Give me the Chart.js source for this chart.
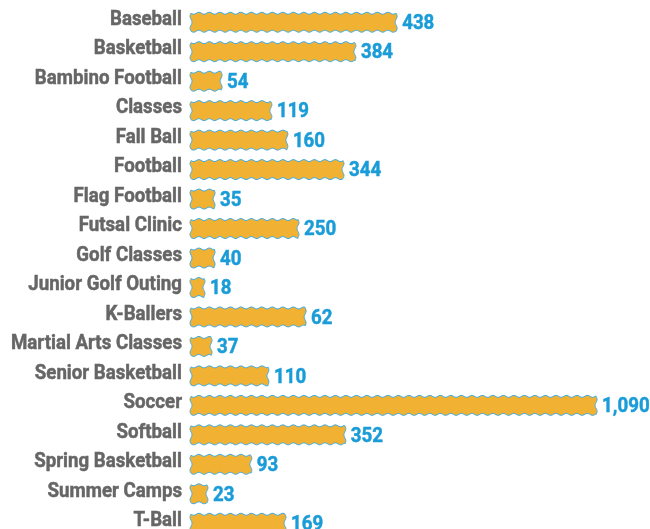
<!DOCTYPE html>
<html lang="en">
<head>
    <meta charset="UTF-8">
    <title>Program Participation</title>
    <script src="https://cdn.jsdelivr.net/npm/chart.js"></script>
    <style>
        html, body {
            margin: 0;
            padding: 0;
            background: #fff;
            overflow: hidden;
        }
        .chart-container {
            width: 650px;
            height: 538px;
        }
    </style>
</head>
<body>
    <div class="chart-container">
        <canvas id="programChart"></canvas>
    </div>

    <script>
        const programs = [
            'Baseball', 'Basketball', 'Bambino Football', 'Classes', 'Fall Ball',
            'Football', 'Flag Football', 'Futsal Clinic', 'Golf Classes',
            'Junior Golf Outing', 'K-Ballers', 'Martial Arts Classes',
            'Senior Basketball', 'Soccer', 'Softball', 'Spring Basketball',
            'Summer Camps', 'T-Ball'
        ];
        // printed numbers next to each bar
        const counts = [438, 384, 54, 119, 160, 344, 35, 250, 40, 18, 62, 37, 110, 1090, 352, 93, 23, 169];
        // bar lengths as drawn in the picture (same units as Soccer = 1,090)
        const barSizes = [552, 441, 81, 215, 258, 409, 62, 288, 62, 35, 307, 54, 207, 1090, 414, 161, 43, 253];

        // no condensed font installed, so squeeze Roboto Bold sideways
        const FONT = 'bold 21px Roboto, sans-serif';
        const SQUEEZE = 0.89;

        function drawNarrow(ctx, text, x, y, align, color) {
            ctx.save();
            ctx.font = FONT;
            ctx.fillStyle = color;
            ctx.strokeStyle = color;
            ctx.lineWidth = 0.5;
            ctx.textBaseline = 'middle';
            ctx.textAlign = align;
            ctx.translate(x, y);
            ctx.scale(SQUEEZE, 1);
            ctx.fillText(text, 0, 0);
            ctx.strokeText(text, 0, 0);
            ctx.restore();
        }

        // wavy outlined bars, category names and value labels
        const wavyBars = {
            id: 'wavyBars',
            afterDatasetsDraw(chart) {
                const ctx = chart.ctx;
                const meta = chart.getDatasetMeta(0);
                meta.data.forEach((bar, i) => {
                    const x0 = bar.base, x1 = bar.x;
                    const y0 = bar.y - bar.height / 2, y1 = bar.y + bar.height / 2;
                    const amp = 1.0, wave = 10.5;
                    const h = y1 - y0;
                    ctx.save();
                    ctx.beginPath();
                    for (let x = x0; x <= x1; x += 1) {
                        const y = y0 + amp * Math.sin(2 * Math.PI * (x - x0) / wave);
                        x === x0 ? ctx.moveTo(x, y) : ctx.lineTo(x, y);
                    }
                    for (let y = y0; y <= y1; y += 1) {
                        ctx.lineTo(x1 + amp * Math.sin(2 * Math.PI * (y - y0) / (h / 1.5)), y);
                    }
                    for (let x = x1; x >= x0; x -= 1) {
                        ctx.lineTo(x, y1 + amp * Math.sin(2 * Math.PI * (x - x0) / wave));
                    }
                    for (let y = y1; y >= y0; y -= 1) {
                        ctx.lineTo(x0 - amp * Math.sin(2 * Math.PI * (y - y0) / (h / 1.5)), y);
                    }
                    ctx.closePath();
                    ctx.fillStyle = '#F1B233';
                    ctx.fill();
                    ctx.strokeStyle = '#45ABDD';
                    ctx.lineWidth = 1;
                    ctx.stroke();
                    ctx.restore();

                    drawNarrow(ctx, counts[i].toLocaleString('en-US'), x1 + 6, bar.y + 1.5, 'left', '#1A9CD8');
                    drawNarrow(ctx, programs[i], x0 - 9, bar.y - 2.5, 'right', '#666666');
                });
            }
        };

        const ctx = document.getElementById('programChart').getContext('2d');
        new Chart(ctx, {
            type: 'bar',
            data: {
                labels: programs,
                datasets: [{
                    data: barSizes,
                    backgroundColor: 'rgba(0,0,0,0)',
                    borderWidth: 0,
                    barThickness: 18
                }]
            },
            options: {
                indexAxis: 'y',
                responsive: true,
                maintainAspectRatio: false,
                animation: false,
                layout: {
                    padding: { top: 7.5, bottom: 0, left: 0, right: 0 }
                },
                scales: {
                    x: {
                        display: false,
                        min: 0,
                        max: 1235
                    },
                    y: {
                        grid: { display: false },
                        border: { display: false },
                        ticks: { display: false },
                        afterFit(scale) {
                            scale.width = 191;
                            scale.paddingTop = 0;
                            scale.paddingBottom = 0;
                        }
                    }
                },
                plugins: {
                    legend: { display: false },
                    tooltip: { enabled: false }
                }
            },
            plugins: [wavyBars]
        });
    </script>
</body>
</html>
